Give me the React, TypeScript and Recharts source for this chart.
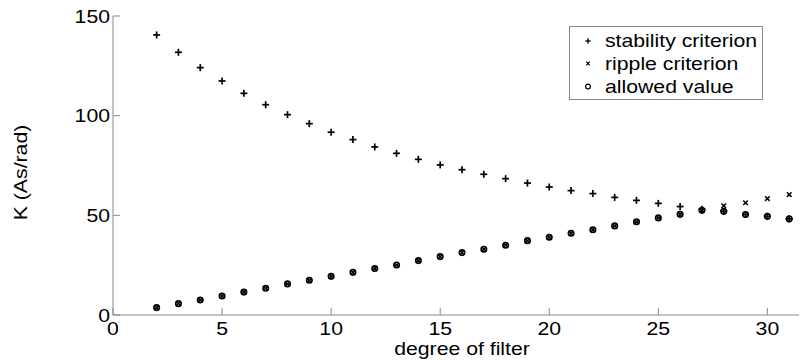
import React from "react";
import { ScatterChart, Scatter, XAxis, YAxis } from "recharts";

const degrees = [2, 3, 4, 5, 6, 7, 8, 9, 10, 11, 12, 13, 14, 15, 16, 17, 18, 19, 20, 21, 22, 23, 24, 25, 26, 27, 28, 29, 30, 31];
const stability = [140.5, 131.8, 124.1, 117.4, 111.2, 105.5, 100.5, 96.0, 91.7, 88.0, 84.3, 81.1, 78.1, 75.3, 72.9, 70.6, 68.4, 66.2, 64.2, 62.4, 60.9, 59.0, 57.5, 56.0, 54.4, 53.0, 52.0, 50.4, 49.5, 48.2];
const ripple = [3.7, 5.7, 7.5, 9.5, 11.5, 13.4, 15.6, 17.4, 19.4, 21.4, 23.3, 25.1, 27.3, 29.3, 31.3, 33.0, 35.0, 37.3, 39.0, 41.0, 42.8, 44.7, 46.8, 48.7, 50.5, 52.5, 54.8, 56.3, 58.4, 60.4];
const allowed = [3.7, 5.7, 7.5, 9.5, 11.5, 13.4, 15.6, 17.4, 19.4, 21.4, 23.3, 25.1, 27.3, 29.3, 31.3, 33.0, 35.0, 37.3, 39.0, 41.0, 42.8, 44.7, 46.8, 48.7, 50.5, 52.5, 52.0, 50.4, 49.5, 48.2];
const xTicks = [0, 5, 10, 15, 20, 25, 30];
const yTicks = [0, 50, 100, 150];
const legendLabels = ["stability criterion", "ripple criterion", "allowed value"];
const xTitle = "degree of filter";
const yTitle = "K (As/rad)";

const FONT = '"Liberation Sans", Arial, Helvetica, sans-serif';
const SX = 1.18;
const AX = "#888";
const TL = 7;

const toPts = (vals: number[]) => degrees.map((d, i) => ({ x: d, y: vals[i] }));

const Plus = (props: any) => {
  const { cx, cy } = props;
  if (cx == null || cy == null) return null;
  return (
    <g stroke="#000" strokeWidth={1.7}>
      <line x1={cx - 3.5} y1={cy} x2={cx + 3.5} y2={cy} />
      <line x1={cx} y1={cy - 3.5} x2={cx} y2={cy + 3.5} />
    </g>
  );
};
const Cross = (props: any) => {
  const { cx, cy } = props;
  if (cx == null || cy == null) return null;
  return (
    <g stroke="#000" strokeWidth={1.5}>
      <line x1={cx - 2.3} y1={cy - 2.3} x2={cx + 2.3} y2={cy + 2.3} />
      <line x1={cx - 2.3} y1={cy + 2.3} x2={cx + 2.3} y2={cy - 2.3} />
    </g>
  );
};
const Circ = (props: any) => {
  const { cx, cy } = props;
  if (cx == null || cy == null) return null;
  return <circle cx={cx} cy={cy} r={2.7} fill="none" stroke="#000" strokeWidth={1.7} />;
};

const BottomTick = (props: any) => {
  const { x, y, payload } = props;
  return (
    <g>
      <line x1={x} y1={y} x2={x} y2={y - TL} stroke={AX} strokeWidth={1} />
      <text transform={`translate(${x},${y + 20}) scale(${SX},1)`} textAnchor="middle" fontSize={18} fontFamily={FONT} fill="#000">
        {payload.value}
      </text>
    </g>
  );
};
const LeftTick = (props: any) => {
  const { x, y, payload } = props;
  return (
    <g>
      <line x1={x} y1={y} x2={x + TL} y2={y} stroke={AX} strokeWidth={1} />
      <text transform={`translate(${x - 3},${y + 6.5}) scale(${SX},1)`} textAnchor="end" fontSize={18} fontFamily={FONT} fill="#000">
        {payload.value}
      </text>
    </g>
  );
};
const TopTick = (props: any) => {
  const { x, y } = props;
  return <line x1={x} y1={y} x2={x} y2={y + TL} stroke={AX} strokeWidth={1} />;
};
const RightTick = (props: any) => {
  const { x, y } = props;
  return <line x1={x} y1={y} x2={x - TL} y2={y} stroke={AX} strokeWidth={1} />;
};

const XTitle = (props: any) => {
  const vb = props.viewBox || {};
  const cx = vb.x + vb.width / 2;
  return (
    <text transform={`translate(${cx},347) scale(${SX},1)`} textAnchor="middle" fontSize={18} fontFamily={FONT} fill="#000">
      {xTitle}
    </text>
  );
};
const YTitle = (props: any) => {
  const vb = props.viewBox || {};
  const cy = vb.y + vb.height / 2 + 7;
  return (
    <text transform={`translate(13,${cy}) rotate(-90) scale(${SX},1)`} textAnchor="middle" dominantBaseline="central" fontSize={18} fontFamily={FONT} fill="#000">
      {yTitle}
    </text>
  );
};

const LegendMarker = ({ kind, cx, cy }: { kind: number; cx: number; cy: number }) => {
  if (kind === 0)
    return (
      <g stroke="#000" strokeWidth={1.3}>
        <line x1={cx - 2.7} y1={cy} x2={cx + 2.7} y2={cy} />
        <line x1={cx} y1={cy - 2.7} x2={cx} y2={cy + 2.7} />
      </g>
    );
  if (kind === 1)
    return (
      <g stroke="#000" strokeWidth={1.2}>
        <line x1={cx - 1.8} y1={cy - 1.8} x2={cx + 1.8} y2={cy + 1.8} />
        <line x1={cx - 1.8} y1={cy + 1.8} x2={cx + 1.8} y2={cy - 1.8} />
      </g>
    );
  return <circle cx={cx} cy={cy} r={2.4} fill="none" stroke="#000" strokeWidth={1.2} />;
};

export default function App() {
  const rowBase = [39, 61.5, 84.5];
  return (
    <div style={{ width: 799, height: 354, overflow: "hidden", position: "relative" }}>
      <ScatterChart width={820} height={354} margin={{ top: 8, right: 17, bottom: 0, left: 0 }}>
        <XAxis
          dataKey="x"
          type="number"
          domain={[0, 32]}
          allowDataOverflow
          ticks={xTicks}
          interval={0}
          tickSize={0}
          tickMargin={0}
          height={47}
          axisLine={{ stroke: AX }}
          tickLine={false}
          tick={<BottomTick />}
          label={{ content: <XTitle /> } as any}
        />
        <XAxis
          xAxisId="top"
          orientation="top"
          type="number"
          domain={[0, 32]}
          allowDataOverflow
          ticks={xTicks}
          interval={0}
          tickSize={0}
          tickMargin={0}
          height={0}
          axisLine={{ stroke: AX }}
          tickLine={false}
          tick={<TopTick />}
        />
        <YAxis
          dataKey="y"
          type="number"
          domain={[0, 150]}
          allowDataOverflow
          ticks={yTicks}
          interval={0}
          tickSize={0}
          tickMargin={0}
          width={105}
          axisLine={{ stroke: AX }}
          tickLine={false}
          tick={<LeftTick />}
          label={{ content: <YTitle /> } as any}
        />
        <YAxis
          yAxisId="right"
          orientation="right"
          type="number"
          domain={[0, 150]}
          allowDataOverflow
          ticks={yTicks}
          interval={0}
          tickSize={0}
          tickMargin={0}
          width={0}
          axisLine={{ stroke: AX }}
          tickLine={false}
          tick={<RightTick />}
        />
        <Scatter name={legendLabels[0]} data={toPts(stability)} shape={<Plus />} isAnimationActive={false} />
        <Scatter name={legendLabels[1]} data={toPts(ripple)} shape={<Cross />} isAnimationActive={false} />
        <Scatter name={legendLabels[2]} data={toPts(allowed)} shape={<Circ />} isAnimationActive={false} />
      </ScatterChart>
      <svg width={799} height={354} style={{ position: "absolute", left: 0, top: 0, pointerEvents: "none" }}>
        <rect x={561.5} y={18.5} width={193} height={73} fill="#fff" stroke={AX} strokeWidth={1} />
        {legendLabels.map((lab, i) => (
          <g key={lab}>
            <LegendMarker kind={i} cx={580} cy={rowBase[i] - 6} />
            <text transform={`translate(597,${rowBase[i]}) scale(${SX},1)`} fontSize={18} fontFamily={FONT} fill="#000">
              {lab}
            </text>
          </g>
        ))}
      </svg>
    </div>
  );
}
